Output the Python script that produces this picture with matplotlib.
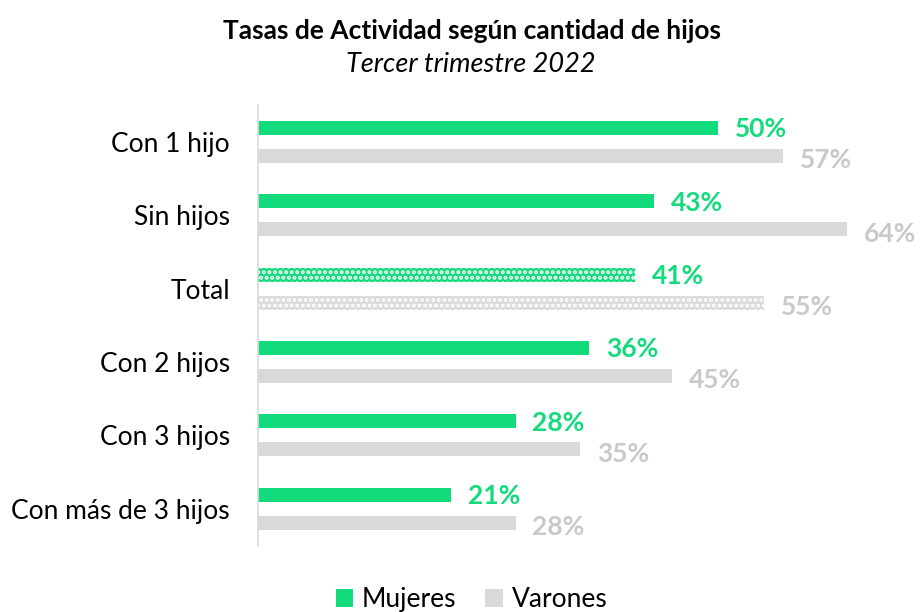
import matplotlib.pyplot as plt
from matplotlib.patches import Patch

plt.rcParams['font.family'] = ['Lato', 'DejaVu Sans']
plt.rcParams['hatch.linewidth'] = 2.0

categorias = ['Con 1 hijo', 'Sin hijos', 'Total', 'Con 2 hijos', 'Con 3 hijos', 'Con más de 3 hijos']
mujeres = [50, 43, 41, 36, 28, 21]
varones = [57, 64, 55, 45, 35, 28]

verde = '#13DB7C'
gris = '#D9D9D9'

fig = plt.figure(figsize=(9.21, 6.12), dpi=100)
ax = fig.add_axes([0.280, 0.109, 0.698, 0.719])

h = 0.19
off = 0.19
for i, cat in enumerate(categorias):
    hatch = '...' if cat == 'Total' else None
    ec = 'white' if hatch else 'none'
    ax.barh(i - off, mujeres[i], height=h, color=verde, edgecolor=ec, linewidth=0, hatch=hatch)
    ax.barh(i + off, varones[i], height=h, color=gris, edgecolor=ec, linewidth=0, hatch=hatch)
    ax.text(mujeres[i] + 1.8, i - off + 0.02, f'{mujeres[i]}%', va='center', ha='left',
            fontsize=19, fontweight='bold', color=verde)
    ax.text(varones[i] + 1.8, i + off + 0.06, f'{varones[i]}%', va='center', ha='left',
            fontsize=19, fontweight='bold', color='#C9C9C9')

ax.set_ylim(5.5, -0.5)
ax.set_xlim(0, 69.8)
ax.set_yticks(range(len(categorias)))
ax.set_yticklabels(categorias, fontsize=19)
ax.tick_params(axis='y', length=0, pad=20)
ax.set_xticks([])
for s in ['top', 'right', 'bottom']:
    ax.spines[s].set_visible(False)
ax.spines['left'].set_color('#D9D9D9')
ax.spines['left'].set_linewidth(1.2)

fig.text(0.513, 0.950, 'Tasas de Actividad según cantidad de hijos', ha='center', va='center',
         fontsize=19, fontweight='bold')
fig.text(0.511, 0.895, 'Tercer trimestre 2022', ha='center', va='center',
         fontsize=19.5, style='italic')

handles = [Patch(facecolor=verde, label='Mujeres'), Patch(facecolor=gris, label='Varones')]
fig.legend(handles=handles, loc='center', bbox_to_anchor=(0.512, 0.02), ncol=2, frameon=False,
           fontsize=19, handlelength=0.65, handleheight=0.65, handletextpad=0.35, columnspacing=1.1)

fig.savefig('out.png', dpi=100)
